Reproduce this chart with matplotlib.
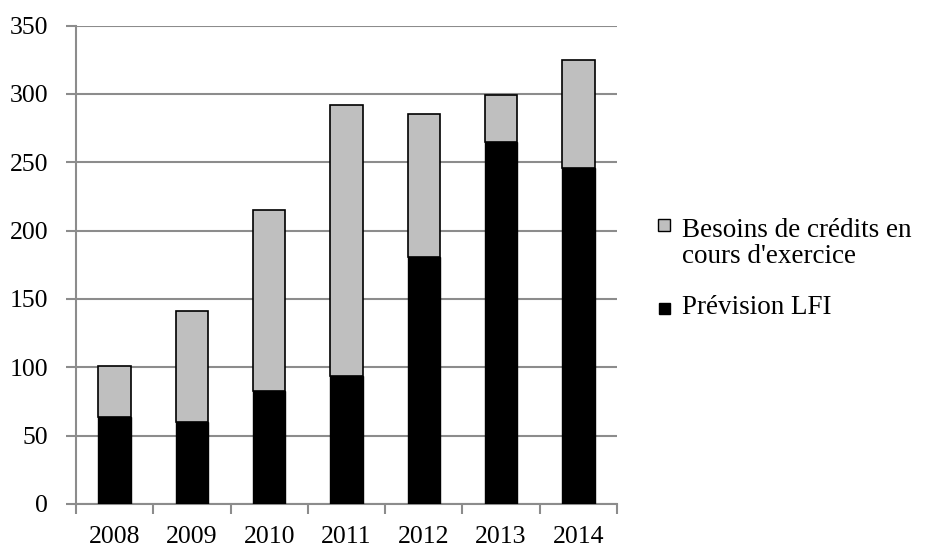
import matplotlib
matplotlib.use("Agg")
import matplotlib.pyplot as plt
from matplotlib.patches import Rectangle

years = ["2008", "2009", "2010", "2011", "2012", "2013", "2014"]
prevision_lfi = [64, 60, 83, 94, 181, 265, 246]
besoins_exercice = [37, 81, 132, 198, 104, 34, 79]
y_ticks = [0, 50, 100, 150, 200, 250, 300, 350]
series_names = ["Besoins de crédits en\ncours d'exercice", "Prévision LFI"]
series_colors = ["#BFBFBF", "black"]

plt.rcParams["font.family"] = ["Liberation Serif", "DejaVu Serif"]

W, H = 930, 550
fig = plt.figure(figsize=(W / 100, H / 100), dpi=100)
ax = fig.add_axes([76 / W, 1 - 504 / H, (617 - 76) / W, (504 - 25.6) / H])

x = list(range(len(years)))
w = 0.42
ax.bar(x, prevision_lfi, width=w, color=series_colors[1], edgecolor="black",
       linewidth=1.0, zorder=3)
ax.bar(x, besoins_exercice, width=w, bottom=prevision_lfi, color=series_colors[0],
       edgecolor="black", linewidth=1.2, zorder=3)

ax.set_xlim(-0.5, len(years) - 0.5)
ax.set_ylim(0, 350)
ax.set_yticks(y_ticks)
ax.set_yticklabels([str(v) for v in y_ticks], fontsize=18.5)
ax.set_xticks(x)
ax.set_xticklabels(years, fontsize=18.5)
ax.set_xticks([i - 0.5 for i in range(len(years) + 1)], minor=True)

grid_c = "#8C8C8C"
ax.grid(axis="y", color=grid_c, linewidth=1.5, zorder=0)
for s in ["top", "right"]:
    ax.spines[s].set_visible(False)
for s in ["left", "bottom"]:
    ax.spines[s].set_color(grid_c)
    ax.spines[s].set_linewidth(1.5)

ax.tick_params(axis="y", direction="out", length=7, width=1.5, color=grid_c, pad=13)
ax.tick_params(axis="x", which="major", length=0, pad=16)
ax.tick_params(axis="x", which="minor", direction="out", length=7, width=1.5, color=grid_c)

# Legend drawn in figure pixel coordinates (squares aligned to first text line;
# the text is anchored on the baseline of its last line)
def fx(px):
    return px / W

def fy(py):
    return 1 - py / H

legend_items = [
    (series_names[0], series_colors[0], (658, 219, 12, 12), 263),
    (series_names[1], series_colors[1], (659, 303, 11, 11), 314),
]
for label, color, (sx, sy, sw, sh), baseline in legend_items:
    fig.patches.append(Rectangle((fx(sx), fy(sy + sh)), sw / W, sh / H,
                                 facecolor=color, edgecolor="black", linewidth=1.0,
                                 transform=fig.transFigure, figure=fig))
    fig.text(fx(682), fy(baseline), label, fontsize=19.5, va="baseline", ha="left",
             linespacing=1.07)

fig.savefig("out.png", dpi=100)
